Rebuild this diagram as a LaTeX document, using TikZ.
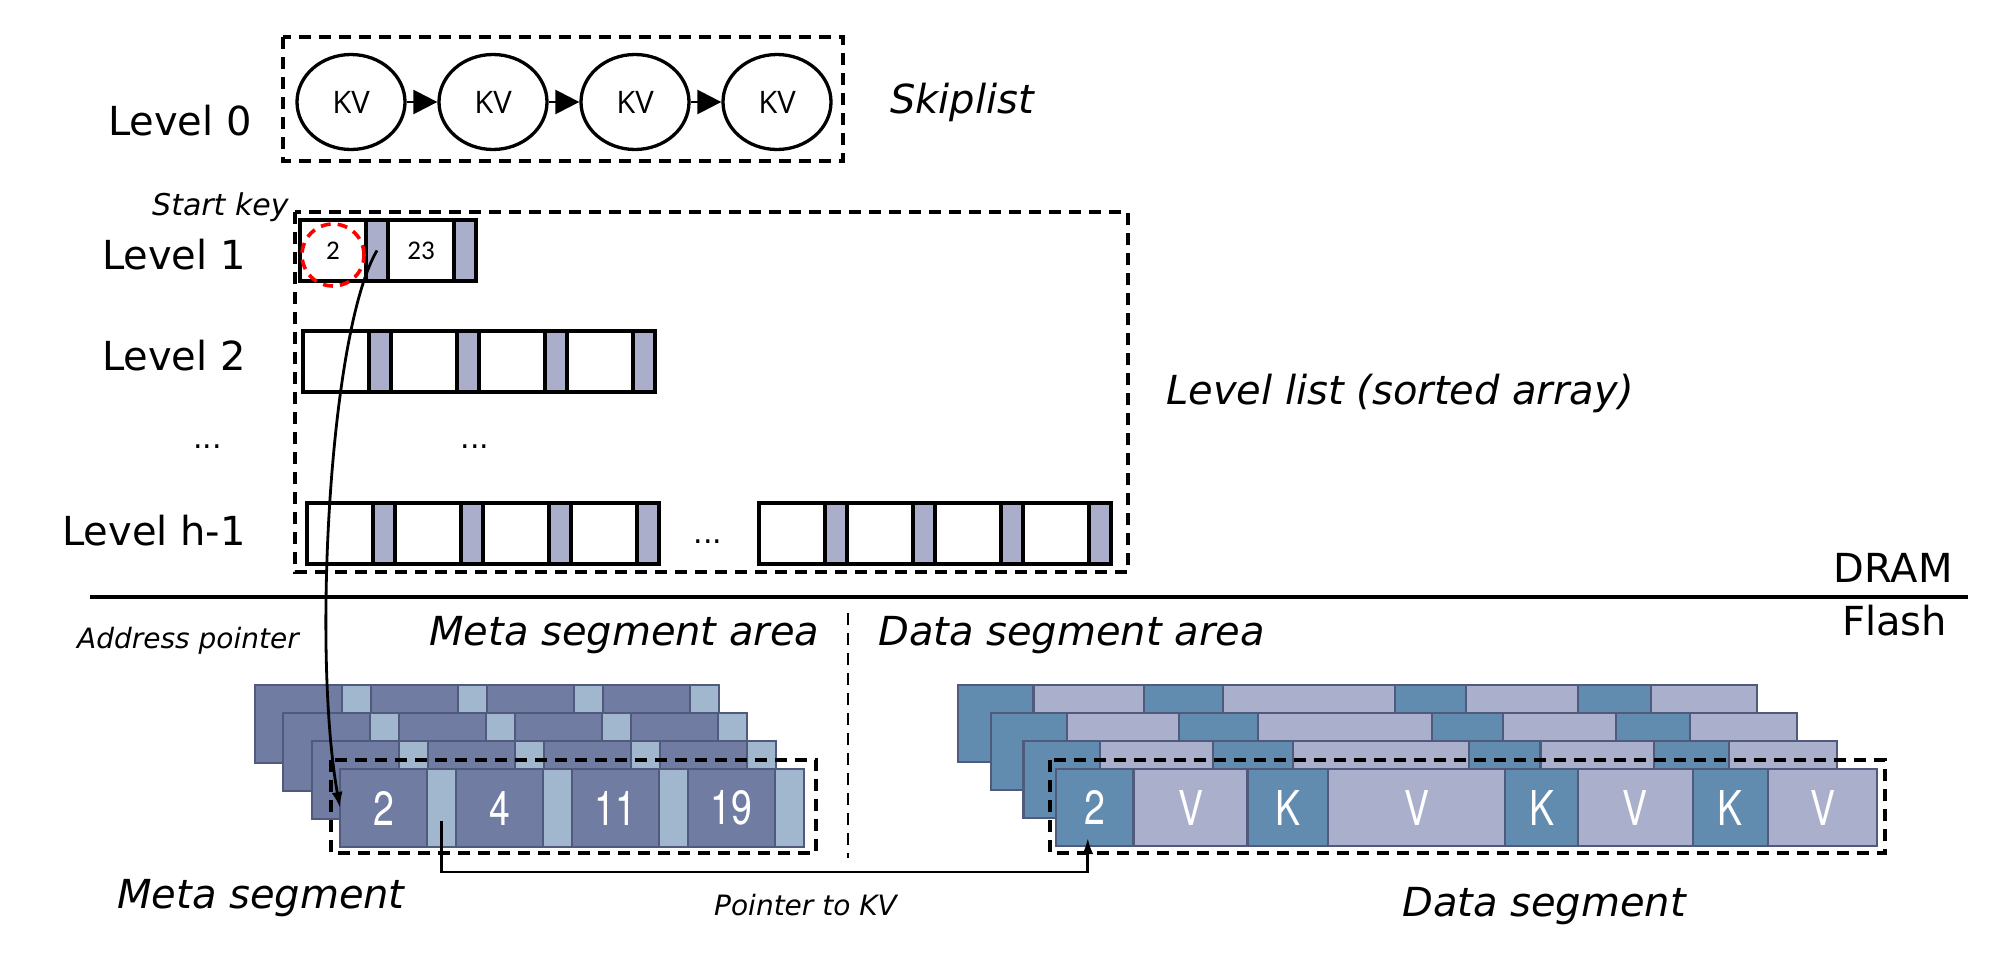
\documentclass[tikz,border=0pt]{standalone}
\usepackage{fontspec}
\setmainfont{DejaVu Sans}
\newfontfamily\kvfont{Open Sans}
\newfontfamily\numfont{Carlito}
\newfontfamily\segfont[FakeStretch=0.78]{TeX Gyre Heros}
\usetikzlibrary{shapes.geometric,arrows.meta,calc}
\definecolor{lvgray}{RGB}{170,174,202}
\definecolor{metadark}{RGB}{112,124,162}
\definecolor{metalight}{RGB}{160,183,205}
\definecolor{datak}{RGB}{98,140,175}
\definecolor{datav}{RGB}{170,175,204}
\definecolor{segline}{RGB}{80,90,125}
\begin{document}
\begin{tikzpicture}[x=1pt,y=-1pt,
  dbox/.style={draw, line width=3.4pt, dash pattern=on 12pt off 8pt},
  kv/.style={ellipse, draw, line width=3.3pt, minimum width=108pt, minimum height=95pt, inner sep=0pt, font=\kvfont\fontsize{31}{36}\selectfont},
  kvarrow/.style={line width=2.5pt, -{Triangle[length=24pt,width=24pt]}},
  lvw/.style={draw, line width=3.3pt, fill=white, minimum height=61pt, minimum width=66pt, inner sep=0pt, outer sep=0pt, anchor=north west, font=\numfont\fontsize{27}{32}\selectfont},
  lvg/.style={lvw, fill=lvgray, minimum width=22pt},
  biglabel/.style={font=\fontsize{40}{48}\selectfont, inner sep=0pt},
  itlabel/.style={font=\fontsize{40}{48}\selectfont\itshape, inner sep=0pt},
  smlabel/.style={font=\fontsize{28}{34}\selectfont\itshape, inner sep=0pt},
  mcell/.style={draw=segline, line width=2.2pt, minimum height=78pt, inner sep=0pt, outer sep=0pt, anchor=north west, text=white, font=\segfont\fontsize{48}{54}\selectfont},
  dcell/.style={mcell, minimum height=77pt},
  ptr/.style={line width=2.8pt, -{Latex[length=16pt,width=11pt]}}
]
\useasboundingbox (0,0) rectangle (2002,958);

% ---------- Skiplist ----------
\draw[dbox] (283,37) rectangle (843,161);
\node[kv] (kv1) at (351,102) {KV};
\node[kv] (kv2) at (493,102) {KV};
\node[kv] (kv3) at (635,102) {KV};
\node[kv] (kv4) at (777,102) {KV};
\draw[kvarrow] (kv1) -- (kv2);
\draw[kvarrow] (kv2) -- (kv3);
\draw[kvarrow] (kv3) -- (kv4);
\node[itlabel, anchor=base west] (skip) at (890,113) {Skiplist};

% ---------- Level labels ----------
\node[biglabel, anchor=base east] (lab0) at (252,135) {Level 0};
\node[biglabel, anchor=base east] (lab1) at (246,269) {Level 1};
\node[biglabel, anchor=base east] (lab2) at (246,370) {Level 2};
\node[font=\fontsize{30}{36}\selectfont, inner sep=0pt, anchor=base west] (labd) at (193,448) {...};
\node[biglabel, anchor=base east] (labh) at (246,545) {Level h-1};
\node[font=\fontsize{30}{36}\selectfont\itshape, inner sep=0pt, anchor=base west] (startkey) at (152,215) {Start key};

% ---------- Level list ----------
\draw[dbox] (295,212) rectangle (1128,572);
% Level 1
\node[lvw] (l1w1) at (300,220) {2};
\node[lvg] (l1g1) at (366,220) {};
\node[lvw] (l1w2) at (388,220) {23};
\node[lvg] (l1g2) at (454,220) {};
% Level 2
\foreach \k in {0,...,3} {
  \node[lvw] (l2w\k) at ({303+88*\k},331) {};
  \node[lvg] (l2g\k) at ({369+88*\k},331) {};
}
\node[font=\fontsize{30}{36}\selectfont, inner sep=0pt, anchor=base] (dots2) at (475,448) {...};
% Level h-1
\foreach \k in {0,...,3} {
  \node[lvw] (lhw\k) at ({307+88*\k},503) {};
  \node[lvg] (lhg\k) at ({373+88*\k},503) {};
  \node[lvw] (lhv\k) at ({759+88*\k},503) {};
  \node[lvg] (lhh\k) at ({825+88*\k},503) {};
}
\node[font=\fontsize{30}{36}\selectfont, inner sep=0pt, anchor=base] (dotsh) at (708,543) {...};
\node[itlabel, anchor=base west] (lvlist) at (1166,404) {Level list (sorted array)};

% start key marker
\node[circle, draw=red, line width=3.6pt, dash pattern=on 10pt off 7pt, minimum size=62pt, inner sep=0pt] (startc) at (333,255) {};

% ---------- DRAM / Flash ----------
\coordinate (sepL) at (90,597);
\coordinate (sepR) at (1968,597);
\draw[line width=3.2pt] (sepL) -- (sepR);
\node[biglabel, anchor=base east] (dram) at (1953,582) {DRAM};
\node[biglabel, anchor=base east] (flash) at (1947,635) {Flash};

\node[smlabel, anchor=base west] (addr) at (77,648) {Address pointer};
\node[itlabel, anchor=base west] (metaarea) at (429,645) {Meta segment area};
\node[itlabel, anchor=base west] (dataarea) at (878,645) {Data segment area};
\coordinate (vsepT) at (848,613);
\coordinate (vsepB) at (848,858);
\draw[line width=2.6pt, dash pattern=on 12pt off 8pt] (vsepT) -- (vsepB);

% ---------- Meta segments ----------
\foreach \L in {0,1,2} {
  \foreach \k in {0,...,3} {
    \node[mcell, fill=metadark, minimum width=87pt] (m\L d\k) at ({255+28.3*\L+116*\k},{685+28*\L}) {};
    \node[mcell, fill=metalight, minimum width=29pt] (m\L l\k) at ({255+28.3*\L+116*\k+87},{685+28*\L}) {};
  }
}
\foreach \k/\t in {0/2,1/4,2/11,3/19} {
  \node[mcell, fill=metadark, minimum width=87pt] (md\k) at ({340+116*\k},769) {\t};
  \node[mcell, fill=metalight, minimum width=29pt] (ml\k) at ({340+116*\k+87},769) {};
}
\draw[dbox] (331,760) rectangle (816,853);

% ---------- Data segments ----------
\foreach \L in {0,1,2} {
  \foreach \o/\w/\col [count=\c] in {0/77/datak,77/113/datav,190/80/datak,270/176/datav,446/72/datak,518/114/datav,632/75/datak,707/108/datav} {
    \pgfmathsetmacro\sc{0.98037+0.008957*\L}
    \pgfmathsetmacro\ww{\w*\sc}
    \pgfmathsetmacro\xx{958+32.7*\L+\o*\sc}
    \node[dcell, fill=\col, minimum width=\ww pt] (d\L c\c) at (\xx,{685+28*\L}) {};
  }
}
\foreach \o/\w/\col/\t [count=\c] in {0/77/datak/2,77/113/datav/V,190/80/datak/K,270/176/datav/V,446/72/datak/K,518/114/datav/V,632/75/datak/K,707/108/datav/V} {
  \pgfmathsetmacro\ww{\w*1.00736}
  \pgfmathsetmacro\xx{1056+\o*1.00736}
  \node[dcell, fill=\col, minimum width=\ww pt] (df\c) at (\xx,769) {\t};
}
\draw[dbox] (1050,760) rectangle (1885,853);

% ---------- connectors ----------
\draw[ptr] (l1g1.center) .. controls (330,330) and (312,650) .. (md0.west);
\draw[ptr] ([yshift=-13pt]ml0.center) -- ++(0,51) -| ([xshift=-7pt,yshift=8pt]df1.south);

% ---------- bottom labels ----------
\node[itlabel, anchor=base west] (metaseg) at (117,908) {Meta segment};
\node[smlabel, anchor=base west] (ptrkv) at (714,915) {Pointer to KV};
\node[itlabel, anchor=base west] (dataseg) at (1402,916) {Data segment};
\end{tikzpicture}
\end{document}
